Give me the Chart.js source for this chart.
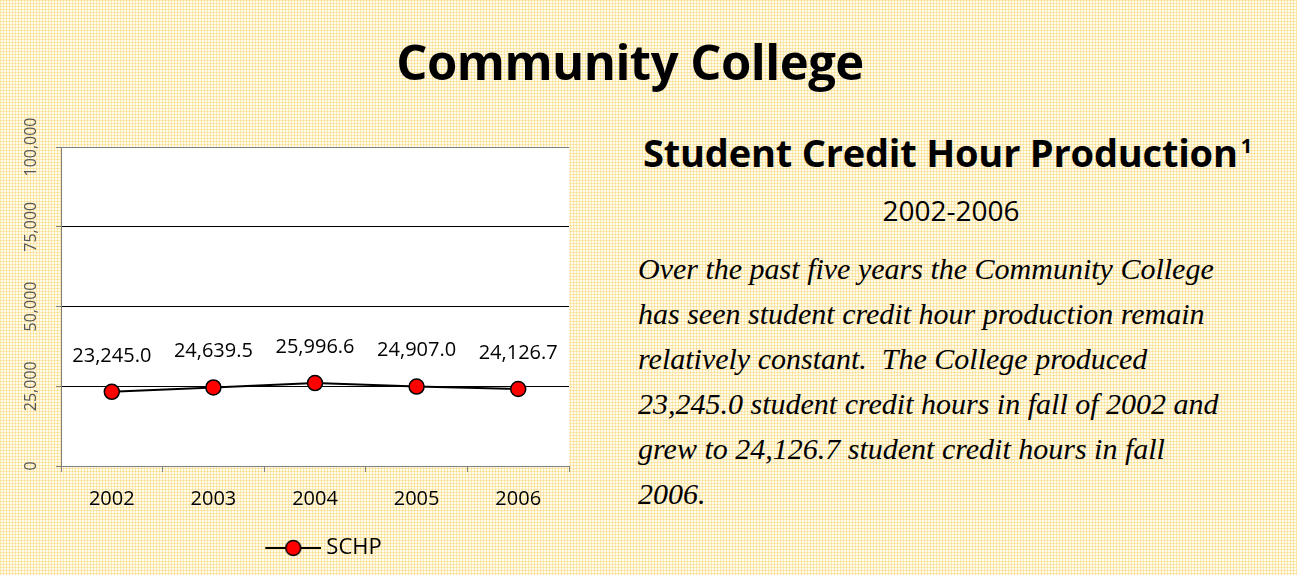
<!DOCTYPE html>
<html>
<head>
<meta charset="utf-8">
<script src="https://cdn.jsdelivr.net/npm/chart.js@4.4.0/dist/chart.umd.min.js"></script>
<style>
  html, body {
    margin: 0;
    padding: 0;
    width: 1297px;
    height: 575px;
    overflow: hidden;
  }
  body {
    position: relative;
    background-color: #fffcef;
    background-image:
      linear-gradient(90deg, rgba(248, 212, 110, 0.5) 1px, transparent 1px),
      linear-gradient(rgba(248, 212, 110, 0.5) 1px, transparent 1px);
    background-size: 3px 3px;
    font-family: 'Open Sans', sans-serif;
    color: #000;
  }
  .title {
    position: absolute;
    left: 0;
    width: 1260px;
    top: 28px;
    text-align: center;
    font-weight: 700;
    font-size: 49px;
    line-height: 66px;
    letter-spacing: -0.5px;
  }
  .heading {
    position: absolute;
    left: 643px;
    top: 128px;
    font-weight: 700;
    font-size: 38px;
    line-height: 48px;
    letter-spacing: -0.2px;
    white-space: nowrap;
  }
  .heading sup {
    font-size: 20px;
    vertical-align: 14px;
    line-height: 0;
    margin-left: 3px;
  }
  .years {
    position: absolute;
    left: 780px;
    width: 342px;
    top: 191px;
    text-align: center;
    font-size: 28px;
    line-height: 38px;
  }
  .para {
    position: absolute;
    left: 638px;
    top: 246px;
    width: 659px;
    font-family: 'Liberation Serif', serif;
    font-style: italic;
    font-size: 30px;
    line-height: 45px;
    white-space: nowrap;
  }
  #chartWrap {
    position: absolute;
    left: 0;
    top: 110px;
    width: 600px;
    height: 465px;
  }
</style>
</head>
<body>
<div class="title">Community College</div>
<div class="heading">Student Credit Hour Production<sup>1</sup></div>
<div class="years">2002-2006</div>
<div class="para">Over the past five years the Community College<br>has seen student credit hour production remain<br>relatively constant.&nbsp; The College produced<br>23,245.0 student credit hours in fall of 2002 and<br>grew to 24,126.7 student credit hours in fall<br>2006.</div>
<div id="chartWrap"><canvas id="schpChart"></canvas></div>

<script>
// chart data
const years = ['2002', '2003', '2004', '2005', '2006'];
const schp = [23245.0, 24639.5, 25996.6, 24907.0, 24126.7];
const yTicks = [0, 25000, 50000, 75000, 100000];
const seriesName = 'SCHP';

const fmtNum = (v, d) => v.toLocaleString('en-US', { minimumFractionDigits: d, maximumFractionDigits: d });

// legend marker: line with red circle (wider than the legend box so it sits off-centre)
const marker = document.createElement('canvas');
marker.width = 90;
marker.height = 20;
(() => {
  const c = marker.getContext('2d');
  c.strokeStyle = '#000';
  c.lineWidth = 2;
  c.beginPath();
  c.moveTo(34, 10);
  c.lineTo(90, 10);
  c.stroke();
  c.beginPath();
  c.arc(62, 10, 7.5, 0, Math.PI * 2);
  c.fillStyle = '#ff0000';
  c.fill();
  c.lineWidth = 1.5;
  c.stroke();
})();

// white plot area
const plotBg = {
  id: 'plotBg',
  beforeDraw(chart) {
    const { ctx, chartArea: a } = chart;
    ctx.save();
    ctx.fillStyle = '#fff';
    ctx.fillRect(a.left, a.top, a.right - a.left, a.bottom - a.top);
    ctx.restore();
  }
};

// rotated y labels and value labels above the points
const extraText = {
  id: 'extraText',
  afterDraw(chart) {
    const { ctx } = chart;
    const yScale = chart.scales.y;
    ctx.save();
    ctx.font = '16px "Open Sans"';
    ctx.fillStyle = '#555';
    ctx.textAlign = 'center';
    ctx.textBaseline = 'middle';
    yTicks.forEach(v => {
      ctx.save();
      ctx.translate(31, yScale.getPixelForValue(v));
      ctx.rotate(-Math.PI / 2);
      ctx.fillText(v.toLocaleString('en-US'), 0, 0);
      ctx.restore();
    });
    ctx.font = '20px "Open Sans"';
    ctx.fillStyle = '#000';
    chart.getDatasetMeta(0).data.forEach((pt, i) => {
      ctx.fillText(fmtNum(schp[i], 1), pt.x, pt.y - 36);
    });
    ctx.restore();
  }
};

new Chart(document.getElementById('schpChart'), {
  type: 'line',
  data: {
    labels: years,
    datasets: [{
      label: seriesName,
      data: schp,
      borderColor: '#000',
      borderWidth: 2,
      tension: 0,
      pointRadius: 7.5,
      pointHoverRadius: 7.5,
      pointBackgroundColor: '#ff0000',
      pointBorderColor: '#000',
      pointBorderWidth: 1.5
    }]
  },
  options: {
    responsive: true,
    maintainAspectRatio: false,
    animation: false,
    layout: {
      padding: { left: 50, right: 31, top: 37, bottom: 6 }
    },
    plugins: {
      legend: {
        position: 'bottom',
        labels: {
          usePointStyle: true,
          pointStyle: marker,
          pointStyleWidth: 78,
          padding: 10,
          color: '#000',
          font: { family: 'Open Sans', size: 22 }
        }
      },
      tooltip: { enabled: false }
    },
    scales: {
      x: {
        offset: true,
        grid: {
          offset: true,
          drawOnChartArea: false,
          tickLength: 6,
          tickColor: '#808080'
        },
        border: { color: '#808080', width: 1 },
        ticks: {
          color: '#000',
          padding: 15,
          font: { family: 'Open Sans', size: 20 }
        },
        afterFit(scale) { scale.height = 61; }
      },
      y: {
        min: 0,
        max: 100000,
        ticks: {
          stepSize: 25000,
          color: 'rgba(0,0,0,0)',
          font: { size: 16 }
        },
        grid: {
          color: ctx => (ctx.tick && ctx.tick.value === 100000) ? '#808080' : '#000',
          tickColor: '#808080',
          tickLength: 5,
          lineWidth: 1
        },
        border: { color: '#808080', width: 1 },
        afterFit(scale) { scale.width = 11; }
      }
    }
  },
  plugins: [plotBg, extraText]
});
</script>
</body>
</html>
